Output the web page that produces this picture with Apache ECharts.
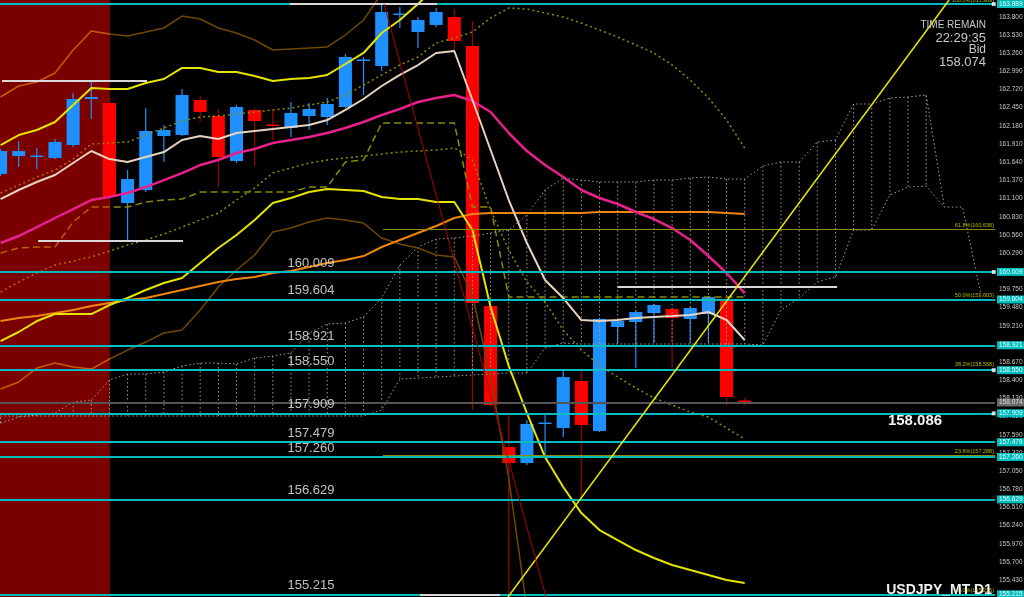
<!DOCTYPE html>
<html><head><meta charset="utf-8">
<script src="https://cdn.jsdelivr.net/npm/echarts@6/dist/echarts.min.js"></script>
<style>html,body{margin:0;padding:0;background:#000}#c{width:1024px;height:597px}</style>
</head><body><div id="c"></div>
<script>
// ---- data (USDJPY D1) ----
// candles: [open, close, low, high], one per bar index
const ohlc = [
[161.465,161.806,161.435,161.836],[161.732,161.806,161.569,161.955],[161.732,161.740,161.539,161.851],
[161.702,161.940,161.687,161.985],[161.895,162.579,161.866,162.668],[162.579,162.609,162.282,162.832],
[162.520,161.123,160.603,162.594],[161.034,161.390,160.469,161.524],[161.227,162.104,161.197,162.445],
[162.029,162.118,161.643,162.193],[162.044,162.638,162.029,162.728],[162.564,162.386,162.237,162.624],
[162.326,161.717,161.271,162.430],[161.658,162.460,161.628,162.490],[162.416,162.252,161.583,162.445],
[162.200,162.185,161.970,162.416],[162.148,162.371,162.014,162.534],[162.326,162.430,162.118,162.520],
[162.312,162.505,162.193,162.594],[162.460,163.203,162.445,163.248],[163.151,163.166,162.638,163.203],
[163.069,163.872,162.995,163.989],[163.835,163.849,163.634,163.946],[163.575,163.753,163.337,163.797],
[163.679,163.872,163.649,163.931],[163.797,163.441,163.307,163.916],[163.367,159.548,157.958,163.738],
[159.503,158.032,158.002,159.503],[157.408,157.170,155.215,157.884],[157.170,157.750,157.141,157.809],
[157.757,157.772,157.245,157.884],[157.690,158.448,157.557,158.552],[158.389,157.735,156.650,158.552],
[157.646,159.310,157.631,159.325],[159.191,159.280,158.953,159.295],[159.265,159.414,158.582,159.429],
[159.399,159.518,158.953,159.533],[159.459,159.325,158.582,159.474],[159.310,159.474,158.953,159.488],
[159.384,159.637,158.953,159.652],[159.607,158.151,158.032,159.622],[158.099,158.074,158.032,158.136]
];
const pinkMA = [160.439,160.543,160.677,160.811,160.944,161.078,161.123,161.182,161.271,161.375,161.479,161.598,161.673,161.777,161.836,161.925,161.970,162.014,162.074,162.148,162.237,162.341,162.430,162.534,162.594,162.638,162.549,162.386,162.074,161.806,161.598,161.420,161.227,161.108,161.019,160.900,160.796,160.662,160.484,160.246,159.994,159.696];
const beigeMA = [161.093,161.227,161.346,161.450,161.628,161.806,161.687,161.643,161.717,161.791,161.970,162.029,161.985,162.074,162.104,162.133,162.163,162.193,162.267,162.416,162.579,162.772,162.936,163.084,163.263,163.292,162.564,161.821,161.078,160.439,159.890,159.622,159.295,159.280,159.295,159.325,159.340,159.354,159.369,159.414,159.295,158.998];
const yellowUpper = [161.895,162.044,162.118,162.237,162.490,162.742,162.728,162.728,162.817,162.876,163.040,163.040,162.980,162.980,162.921,162.846,162.876,162.891,162.936,163.099,163.263,163.560,163.753,163.991,164.250];
const yellowLower = [158.983,159.117,159.280,159.384,159.384,159.384,159.518,159.622,159.741,159.845,159.919,160.142,160.365,160.558,160.781,161.034,161.108,161.197,161.242,161.227,161.212,161.123,161.093,161.093,161.049,161.049,160.632,159.488,158.612,157.913,157.259,156.814,156.427,156.175,156.026,155.878,155.759,155.655,155.580,155.506,155.432,155.387];
const orangeMA = [159.280,159.325,159.355,159.399,159.444,159.503,159.548,159.592,159.622,159.681,159.741,159.800,159.860,159.904,159.934,159.994,160.023,160.083,160.142,160.187,160.246,160.380,160.484,160.588,160.692,160.811,160.870,160.885,160.885,160.885,160.885,160.885,160.885,160.900,160.900,160.900,160.900,160.900,160.900,160.900,160.885,160.870];
const brownUpper = [162.609,162.772,162.832,162.965,163.307,163.589,163.545,163.515,163.575,163.634,163.812,163.768,163.634,163.560,163.456,163.307,163.322,163.337,163.352,163.530,163.753,164.150];
const brownLower = [158.270,158.374,158.582,158.656,158.597,158.567,158.716,158.849,158.968,159.102,159.147,159.444,159.786,160.038,160.261,160.603,160.662,160.751,160.811,160.781,160.736,160.514,160.424,160.365,160.261,160.231,159.667,158.433,156.947,155.000];
const kijun = [160.291,160.365,160.380,160.380,160.751,160.974,160.974,160.974,161.049,161.078,161.093,161.197,161.197,161.197,161.197,161.197,161.197,161.271,161.271,161.643,161.673,162.222,162.222,162.222,162.222,162.222,160.974,160.974,159.637,159.637,159.637,159.637,159.637,159.637,159.637,159.637,159.637,159.637,159.637,159.637,159.637,159.637];
const dottedUpper = [161.182,161.301,161.420,161.524,161.687,161.910,161.925,161.940,162.044,162.148,162.252,162.312,162.326,162.356,162.386,162.416,162.445,162.490,162.534,162.638,162.787,162.936,163.084,163.203,163.411,163.485,163.575,163.783,163.931,163.916,163.857,163.797,163.708,163.604,163.500,163.381,163.263,163.084,162.861,162.594,162.267,161.851];
const dottedLower = [159.711,159.860,159.994,160.112,160.172,160.231,160.320,160.410,160.484,160.573,160.677,160.781,160.885,161.078,161.257,161.479,161.554,161.628,161.673,161.702,161.732,161.762,161.791,161.806,161.821,161.851,161.673,160.930,160.335,159.860,159.563,159.147,158.849,158.627,158.448,158.285,158.136,158.032,157.928,157.854,157.690,157.527];
const spanA = [157.765,157.854,157.884,157.913,158.077,158.106,158.404,158.493,158.493,158.522,158.612,158.656,158.656,158.641,158.731,158.760,158.805,159.102,159.236,159.251,159.340,159.622,160.112,160.380,160.499,160.514,160.543,160.588,160.632,160.855,161.227,161.405,161.375,161.346,161.346,161.346,161.375,161.375,161.405,161.420,161.390,161.390,161.583,161.643,161.643,161.940,161.970,162.505,162.505,162.594,162.609,162.638,160.974,160.974,159.696];
const spanB = [157.869,157.869,157.869,157.869,157.869,157.869,157.869,157.869,157.869,157.869,157.869,157.869,157.869,157.869,157.869,157.869,157.869,157.869,157.869,157.869,157.869,157.958,158.418,158.433,158.448,158.463,158.478,158.493,158.508,158.508,158.879,158.953,158.939,158.939,158.939,158.939,158.939,158.939,158.939,158.939,158.939,158.939,158.924,159.444,159.622,159.860,159.934,160.632,160.632,161.153,161.271,161.286,160.974,null,null];
const cyanLevels = [163.989,160.009,159.604,158.921,158.550,157.909,157.479,157.260,156.629,155.215];
const markedLevels = [163.989,160.009,158.550,157.909];
const bidPrice = 158.074;
const fibLabels = ['100.0%','61.8%','50.0%','38.2%','23.6%','0.0%'];
const fibValues = [163.989,160.638,159.603,158.568,157.288,155.215];
const fibStart = [24.05,21.07,21.07,21.07,21.07,21.07];
const yellowTrend = [[27.96,155.18],[52.26,164.05]];
const redTrend = [[21.13,163.99],[30.05,155.18]];
const whiteSegs = [[[0.08,162.846],[8.07,162.846]],[[2.07,160.469],[10.05,160.469]],[[34.0,159.785],[46.09,159.785]],[[15.95,163.989],[24.05,163.989]],[[23.11,155.22],[27.52,155.22]]];
const yTicks = [163.800,163.530,163.260,162.990,162.720,162.450,162.180,161.910,161.640,161.370,161.100,160.830,160.560,160.290,160.020,159.750,159.480,159.210,158.940,158.670,158.400,158.130,157.860,157.590,157.320,157.050,156.780,156.510,156.240,155.970,155.700,155.430];

// ---- chart ----
const FONT = 'Liberation Sans';
const pts = a => a.map((v,i)=>[i,v]).filter(p=>p[1]!=null);
const split = (inC,outC) => ({type:'linear',x:0,y:0,x2:995,y2:0,global:true,colorStops:[
  {offset:0,color:inC},{offset:0.1105,color:inC},{offset:0.1106,color:outC},{offset:1,color:outC}]});
const lineS = (name,data,color,width,type,z) => ({name,type:'line',data:pts(data),symbol:'none',silent:true,
  z:z||4,lineStyle:{color,width,type:type||'solid'},animation:false});

const hatch = [];
for (let i=0;i<spanA.length;i++) if (spanA[i]!=null && spanB[i]!=null) hatch.push([i,spanA[i],spanB[i]]);

const boxLabel = (v,bg,fg) => ({show:true,position:'end',distance:2,formatter:v.toFixed(3),color:fg,backgroundColor:bg,
    fontSize:6.5,fontFamily:FONT,padding:[1,2,0,2]});
const levelLines = cyanLevels.map(v=>({yAxis:v,lineStyle:{color:'#00bcbc',width:2,type:'solid'},label:boxLabel(v,'#00bcbc','#e6ffff')}));
levelLines.unshift({yAxis:bidPrice,lineStyle:{color:'#555555',width:2,type:'solid'},label:boxLabel(bidPrice,'#6a6a6a','#dddddd')});

const fibLines = fibValues.map((v,k)=>[{coord:[fibStart[k],v]},{coord:[54.79,v],
  lineStyle:{color:'#8c8c00',width:1,type:'solid'},
  label:{show:true,position:'insideEndTop',distance:1,formatter:fibLabels[k]+'('+v.toFixed(3)+')',color:'#b8b800',fontSize:5.5,fontFamily:FONT}}]);

const segLines = whiteSegs.map(s=>[{coord:s[0]},{coord:s[1]}]);

const chart = echarts.init(document.getElementById('c'));
chart.setOption({
  backgroundColor:'#000',
  animation:false,
  grid:{left:0,top:0,right:29,bottom:0,containLabel:false,outerBoundsMode:'none'},
  xAxis:{type:'value',min:-0.03,max:54.79,show:false},
  yAxis:{type:'value',position:'right',min:155.18,max:164.05,splitLine:{show:false},
    axisLine:{show:true,lineStyle:{color:'#8a8a8a',width:1}},
    axisTick:{show:true,length:3,customValues:yTicks,lineStyle:{color:'#9a9a9a'}},
    axisLabel:{show:true,customValues:yTicks,margin:4,fontSize:6.5,color:'#c8c8c8',fontFamily:FONT,
      formatter:v=>v.toFixed(3)}},
  graphic:[
    {type:'text',x:986,y:25,z:20,style:{text:'TIME REMAIN',fill:'#c8c8c8',font:'10px '+FONT,textAlign:'right',verticalAlign:'middle'}},
    {type:'text',x:986,y:38,z:20,style:{text:'22:29:35',fill:'#c8c8c8',font:'13px '+FONT,textAlign:'right',verticalAlign:'middle'}},
    {type:'text',x:986,y:50,z:20,style:{text:'Bid',fill:'#c8c8c8',font:'12px '+FONT,textAlign:'right',verticalAlign:'middle'}},
    {type:'text',x:986,y:62,z:20,style:{text:'158.074',fill:'#c8c8c8',font:'13px '+FONT,textAlign:'right',verticalAlign:'middle'}},
    {type:'text',x:915,y:421,z:20,style:{text:'158.086',fill:'#f2f2f2',font:'bold 15px '+FONT,textAlign:'center',verticalAlign:'middle'}},
    {type:'text',x:992,y:590,z:20,style:{text:'USDJPY_MT D1',fill:'#f2f2f2',font:'bold 14px '+FONT,textAlign:'right',verticalAlign:'middle'}}
  ],
  series:[
    {type:'line',data:[],z:0,silent:true,markArea:{silent:true,itemStyle:{color:'#7a0000'},data:[[{xAxis:-1},{xAxis:6.03}]]}},
    {type:'custom',z:2,silent:true,data:ohlc.map((d,i)=>[i,d[0],d[1],d[2],d[3]]),encode:{x:0,y:[1,2,3,4]},
      renderItem:(params,api)=>{
        const i=api.value(0),o=api.value(1),c=api.value(2),l=api.value(3),h=api.value(4);
        const pO=api.coord([i,o]),pC=api.coord([i,c]),pL=api.coord([i,l]),pH=api.coord([i,h]);
        const w=api.size([1,0])[0]*0.72, up=c>=o;
        const top=Math.min(pO[1],pC[1]),bot=Math.max(pO[1],pC[1]);
        return {type:'group',children:[
          {type:'line',shape:{x1:pH[0],y1:pH[1],x2:pL[0],y2:pL[1]},style:{stroke:up?'#1e90ff':'#a00000',lineWidth:1.2}},
          {type:'rect',shape:{x:pO[0]-w/2,y:top,width:w,height:Math.max(bot-top,1.5)},style:{fill:up?'#1e90ff':'#ff0000'}}
        ]};
      }},
    {type:'custom',z:3,silent:true,data:hatch,encode:{x:0,y:[1,2]},
      renderItem:(params,api)=>{
        const a=api.coord([api.value(0),api.value(1)]),b=api.coord([api.value(0),api.value(2)]);
        return {type:'line',shape:{x1:a[0],y1:a[1],x2:b[0],y2:b[1]},style:{stroke:'#9a9a9a',lineWidth:1,lineDash:[1.5,2.5]}};
      }},
    lineS('spanA',spanA,'#a0a0a0',1,[1.5,2.5],3),
    lineS('spanB',spanB,'#a0a0a0',1,[1.5,2.5],3),
    lineS('brownUpper',brownUpper,split('#c85a00','#6e4600'),1.5),
    lineS('brownLower',brownLower,split('#c45c00','#6e4600'),1.5),
    lineS('dottedUpper',dottedUpper,split('#b47000','#8c8c00'),1.5,[2,3]),
    lineS('dottedLower',dottedLower,split('#b47000','#8c8c00'),1.5,[2,3]),
    lineS('kijun',kijun,split('#b46400','#8a8a00'),1.5,[7,4]),
    lineS('orange',orangeMA,'#f08410',2),
    lineS('yellowUpper',yellowUpper,'#e4e400',2),
    lineS('yellowLower',yellowLower,'#e4e400',2),
    lineS('pink',pinkMA,'#e8208c',2.5),
    lineS('beige',beigeMA,'#e6d3c0',2),
    {type:'line',data:yellowTrend,symbol:'none',silent:true,z:5,lineStyle:{color:'#e8e800',width:1.5}},
    {type:'line',data:redTrend,symbol:'none',silent:true,z:5,lineStyle:{color:'#b00000',width:1}},
    {type:'line',data:[],z:5,silent:true,markLine:{silent:true,symbol:['none','none'],animation:false,data:fibLines}},
    {type:'line',data:[],z:6,silent:true,markLine:{silent:true,symbol:['none','none'],animation:false,data:levelLines}},
    {type:'line',data:[],z:6,silent:true,markLine:{silent:true,symbol:['none','none'],animation:false,
      lineStyle:{color:'#d8d8d8',width:2,type:'solid'},label:{show:false},data:segLines}},
    {type:'scatter',z:7,silent:true,data:markedLevels.map(v=>[54.72,v]),symbol:'rect',symbolSize:4,itemStyle:{color:'#ffffff'}},
    {type:'scatter',z:7,silent:true,data:cyanLevels.map(v=>[17.1,v]),symbolSize:1,itemStyle:{color:'rgba(0,0,0,0)'},
      label:{show:true,position:'top',distance:2,formatter:p=>p.value[1].toFixed(3),color:'#eeeeee',fontSize:13,fontFamily:FONT}}
  ]
});
</script></body></html>
